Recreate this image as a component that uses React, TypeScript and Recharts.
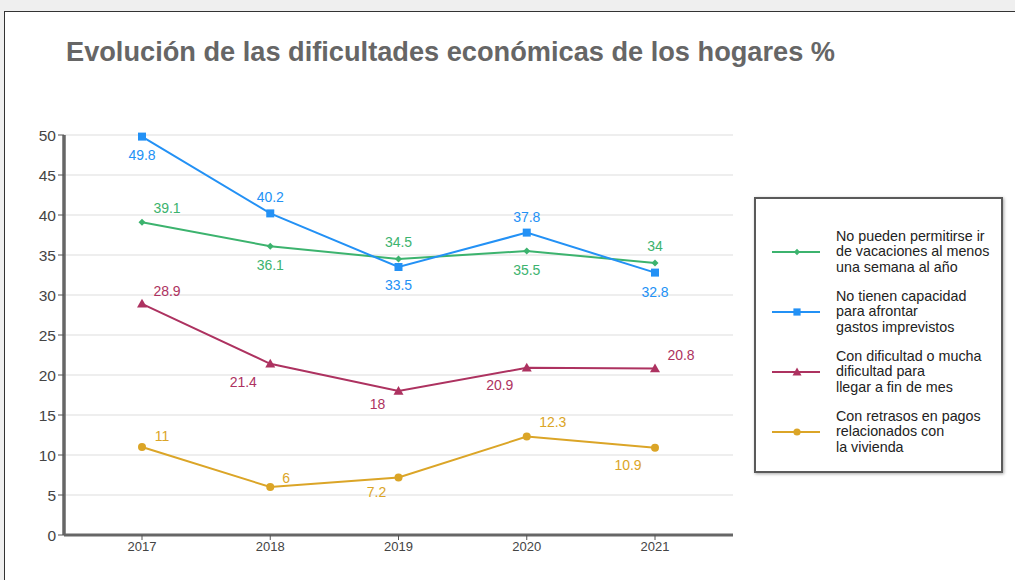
import { CartesianGrid, Line, LineChart, XAxis, YAxis } from "recharts";

const years = ["2017", "2018", "2019", "2020", "2021"];
const vacaciones = [39.1, 36.1, 34.5, 35.5, 34];
const imprevistos = [49.8, 40.2, 33.5, 37.8, 32.8];
const finDeMes = [28.9, 21.4, 18, 20.9, 20.8];
const retrasos = [11, 6, 7.2, 12.3, 10.9];
const yTicks = [0, 5, 10, 15, 20, 25, 30, 35, 40, 45, 50];

const FONT = '"Liberation Sans", Arial, sans-serif';

const data = years.map((year, i) => ({
  year,
  vacaciones: vacaciones[i],
  imprevistos: imprevistos[i],
  finDeMes: finDeMes[i],
  retrasos: retrasos[i],
}));

type Shape = "diamond" | "square" | "triangle" | "circle";

const series: { key: string; name: string[]; color: string; shape: Shape; offsets: number[][] }[] = [
  {
    key: "vacaciones",
    name: ["No pueden permitirse ir", "de vacaciones al menos", "una semana al año"],
    color: "#3cb36e",
    shape: "diamond",
    offsets: [[25, -14], [0, 19], [0, -17], [0, 19], [0, -17]],
  },
  {
    key: "imprevistos",
    name: ["No tienen capacidad", "para afrontar", "gastos imprevistos"],
    color: "#2391f5",
    shape: "square",
    offsets: [[0, 18], [0, -16], [0, 18], [0, -16], [0, 19]],
  },
  {
    key: "finDeMes",
    name: ["Con dificultad o mucha", "dificultad para", "llegar a fin de mes"],
    color: "#ad3260",
    shape: "triangle",
    offsets: [[25, -13], [-27, 18], [-21, 13], [-27, 17], [26, -14]],
  },
  {
    key: "retrasos",
    name: ["Con retrasos en pagos", "relacionados con", "la vivienda"],
    color: "#dba527",
    shape: "circle",
    offsets: [[20, -11], [16, -9], [-22, 15], [26, -15], [-27, 17]],
  },
];

function Marker({ cx, cy, color, shape, size = 1 }: { cx: number; cy: number; color: string; shape: Shape; size?: number }) {
  if (cx == null || cy == null) return null;
  if (shape === "diamond") {
    const r = 3.5 * size;
    return <path d={`M${cx},${cy - r}L${cx + r},${cy}L${cx},${cy + r}L${cx - r},${cy}Z`} fill={color} />;
  }
  if (shape === "square") {
    const r = 4 * size;
    return <rect x={cx - r} y={cy - r} width={2 * r} height={2 * r} fill={color} />;
  }
  if (shape === "triangle") {
    const r = 5 * size;
    return <path d={`M${cx},${cy - r}L${cx + r},${cy + r * 0.75}L${cx - r},${cy + r * 0.75}Z`} fill={color} />;
  }
  return <circle cx={cx} cy={cy} r={4 * size} fill={color} />;
}

function LegendBox() {
  return (
    <div
      style={{
        position: "absolute",
        left: 754,
        top: 197,
        width: 249,
        height: 276,
        border: "2px solid #5a5a5a",
        boxShadow: "1px 1px 3px rgba(0,0,0,0.35)",
        background: "#fff",
        boxSizing: "border-box",
        paddingTop: 23,
        fontFamily: FONT,
      }}
    >
      {series.map((s) => (
        <div key={s.key} style={{ display: "flex", alignItems: "center", height: 60 }}>
          <svg width={80} height={20} style={{ flexShrink: 0 }}>
            <line x1={16} y1={10} x2={64} y2={10} stroke={s.color} strokeWidth={2} />
            <Marker cx={41} cy={10} color={s.color} shape={s.shape} size={0.9} />
          </svg>
          <div style={{ fontSize: 14.3, lineHeight: "15.5px", color: "#222", whiteSpace: "nowrap" }}>
            {s.name.map((l, i) => (
              <div key={i}>{l}</div>
            ))}
          </div>
        </div>
      ))}
    </div>
  );
}

export default function App() {
  return (
    <div style={{ position: "fixed", left: 0, top: 0, width: 1015, height: 580, background: "#efefef", overflow: "hidden" }}>
      <div
        style={{
          position: "absolute",
          left: 4,
          top: 11,
          width: 1030,
          height: 600,
          background: "#fff",
          borderTop: "1.5px solid #333",
          borderLeft: "1.5px solid #333",
        }}
      />
      <div
        style={{
          position: "absolute",
          left: 66,
          top: 36,
          fontFamily: FONT,
          fontWeight: "bold",
          fontSize: 27.2,
          color: "#666",
          whiteSpace: "nowrap",
        }}
      >
        Evolución de las dificultades económicas de los hogares %
      </div>
      <div style={{ position: "absolute", left: 0, top: 0 }}>
        <LineChart width={1015} height={580} data={data} margin={{ top: 135, right: 282, bottom: 0, left: 0 }}>
          <CartesianGrid vertical={false} stroke="#e8e8e8" strokeWidth={1.5} />
          <XAxis
            dataKey="year"
            padding={{ left: 78, right: 78 }}
            axisLine={{ stroke: "#666", strokeWidth: 3 }}
            tickLine={{ stroke: "#555" }}
            tickSize={5}
            tick={{ fill: "#444", fontSize: 13, fontFamily: FONT }}
            height={45}
          />
          <YAxis
            domain={[0, 50]}
            ticks={yTicks}
            interval={0}
            width={64}
            axisLine={{ stroke: "#666", strokeWidth: 3.5 }}
            tickLine={{ stroke: "#555" }}
            tickSize={6}
            tick={{ fill: "#444", fontSize: 15.5, fontFamily: FONT }}
          />
          {series.map((s) => (
            <Line
              key={s.key}
              dataKey={s.key}
              stroke={s.color}
              strokeWidth={2}
              isAnimationActive={false}
              dot={(p: any) => <Marker key={p.index} cx={p.cx} cy={p.cy} color={s.color} shape={s.shape} />}
              activeDot={false}
              label={(p: any) => {
                const o = s.offsets[p.index] || [0, 0];
                return (
                  <text
                    key={p.index}
                    x={p.x + o[0]}
                    y={p.y + o[1]}
                    textAnchor="middle"
                    dominantBaseline="central"
                    fill={s.color}
                    fontSize={14}
                    fontFamily={FONT}
                  >
                    {p.value}
                  </text>
                );
              }}
            />
          ))}
        </LineChart>
      </div>
      <LegendBox />
    </div>
  );
}
